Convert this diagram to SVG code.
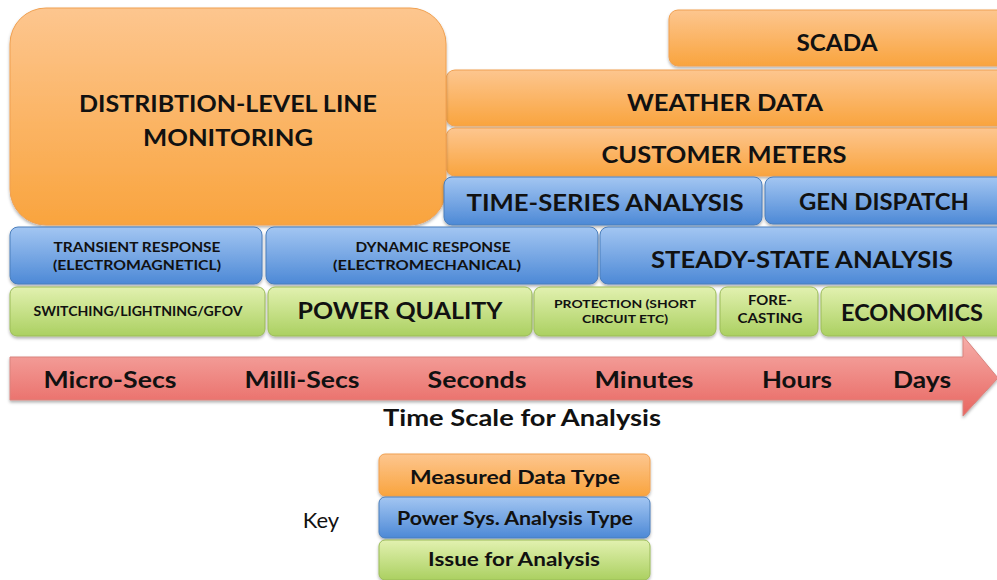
<svg xmlns="http://www.w3.org/2000/svg" width="997" height="580" viewBox="0 0 997 580">
<defs>
<linearGradient id="gO" x1="0" y1="0" x2="0" y2="1"><stop offset="0" stop-color="#FDC68F"/><stop offset="1" stop-color="#F9A43E"/></linearGradient>
<linearGradient id="gB" x1="0" y1="0" x2="0" y2="1"><stop offset="0" stop-color="#A3C6F2"/><stop offset="1" stop-color="#4D89D6"/></linearGradient>
<linearGradient id="gG" x1="0" y1="0" x2="0" y2="1"><stop offset="0" stop-color="#E2F1B0"/><stop offset="1" stop-color="#ABD061"/></linearGradient>
<linearGradient id="gR" x1="0" y1="0" x2="0" y2="1"><stop offset="0" stop-color="#F6AEA9"/><stop offset="1" stop-color="#E86560"/></linearGradient>
<filter id="sh" x="-5%" y="-10%" width="110%" height="130%"><feDropShadow dx="0" dy="2" stdDeviation="1.5" flood-color="#000" flood-opacity="0.3"/></filter>
</defs>
<style>
.o{fill:url(#gO);stroke:#F0A050;stroke-width:1;filter:url(#sh)}
.b{fill:url(#gB);stroke:#4A7EBB;stroke-width:1;filter:url(#sh)}
.g{fill:url(#gG);stroke:#9BBB59;stroke-width:1;filter:url(#sh)}
text{font-family:Lato,"Open Sans","Liberation Sans",sans-serif;font-weight:bold;fill:#111;text-anchor:middle}
.k{font-weight:normal}
</style>
<rect width="997" height="580" fill="#fff"/>

<g id="scada"><rect class="o" x="669" y="10" width="340" height="56" rx="9"/><text x="837" y="51" font-size="23" textLength="81" lengthAdjust="spacingAndGlyphs">SCADA</text></g>
<g id="weather"><rect class="o" x="446" y="70" width="563" height="56" rx="9"/><text x="725" y="111" font-size="23" textLength="196" lengthAdjust="spacingAndGlyphs">WEATHER DATA</text></g>
<g id="meters"><rect class="o" x="446" y="128" width="563" height="48" rx="9"/><text x="724" y="163" font-size="23" textLength="245" lengthAdjust="spacingAndGlyphs">CUSTOMER METERS</text></g>
<g id="dist"><rect class="o" x="10" y="8" width="436" height="217" rx="36"/><text x="228" y="112" font-size="23" textLength="298" lengthAdjust="spacingAndGlyphs">DISTRIBTION-LEVEL LINE</text><text x="228" y="146" font-size="23" textLength="170" lengthAdjust="spacingAndGlyphs">MONITORING</text></g>

<g id="timeseries"><rect class="b" x="444" y="177" width="318" height="48" rx="8"/><text x="605" y="211" font-size="23" textLength="277" lengthAdjust="spacingAndGlyphs">TIME-SERIES ANALYSIS</text></g>
<g id="gendispatch"><rect class="b" x="765" y="177" width="244" height="47" rx="8"/><text x="884" y="210" font-size="23" textLength="170" lengthAdjust="spacingAndGlyphs">GEN DISPATCH</text></g>
<g id="transient"><rect class="b" x="10" y="227" width="252" height="57" rx="8"/><text x="137" y="252" font-size="13" textLength="167" lengthAdjust="spacingAndGlyphs">TRANSIENT RESPONSE</text><text x="137" y="270" font-size="13" textLength="168" lengthAdjust="spacingAndGlyphs">(ELECTROMAGNETICL)</text></g>
<g id="dynamic"><rect class="b" x="266" y="227" width="332" height="57" rx="8"/><text x="433" y="252" font-size="13" textLength="155" lengthAdjust="spacingAndGlyphs">DYNAMIC RESPONSE</text><text x="427" y="270" font-size="13" textLength="188" lengthAdjust="spacingAndGlyphs">(ELECTROMECHANICAL)</text></g>
<g id="steady"><rect class="b" x="600" y="227" width="409" height="57" rx="8"/><text x="802" y="268" font-size="23" textLength="302" lengthAdjust="spacingAndGlyphs">STEADY-STATE ANALYSIS</text></g>

<g id="switching"><rect class="g" x="10" y="287" width="255" height="49" rx="7"/><text x="138" y="316" font-size="13" textLength="209" lengthAdjust="spacingAndGlyphs">SWITCHING/LIGHTNING/GFOV</text></g>
<g id="powerquality"><rect class="g" x="268" y="287" width="264" height="49" rx="7"/><text x="400" y="319" font-size="23" textLength="205" lengthAdjust="spacingAndGlyphs">POWER QUALITY</text></g>
<g id="protection"><rect class="g" x="534" y="287" width="182" height="49" rx="7"/><text x="625" y="308" font-size="11.5" textLength="142" lengthAdjust="spacingAndGlyphs">PROTECTION (SHORT</text><text x="625" y="323" font-size="11.5" textLength="86" lengthAdjust="spacingAndGlyphs">CIRCUIT ETC)</text></g>
<g id="forecasting"><rect class="g" x="720" y="287" width="98" height="49" rx="7"/><text x="770" y="305" font-size="13" textLength="44" lengthAdjust="spacingAndGlyphs">FORE-</text><text x="770" y="323" font-size="13" textLength="65" lengthAdjust="spacingAndGlyphs">CASTING</text></g>
<g id="economics"><rect class="g" x="821" y="287" width="188" height="49" rx="7"/><text x="912" y="321" font-size="23" textLength="142" lengthAdjust="spacingAndGlyphs">ECONOMICS</text></g>

<g id="timearrow">
<path d="M10 357 H963 V336 L998 378 L963 416 V400 H10 Z" fill="url(#gR)" stroke="#D9837E" stroke-width="1" filter="url(#sh)"/>
<text x="110" y="388" font-size="23" textLength="133" lengthAdjust="spacingAndGlyphs">Micro-Secs</text>
<text x="302" y="388" font-size="23" textLength="115" lengthAdjust="spacingAndGlyphs">Milli-Secs</text>
<text x="477" y="388" font-size="23" textLength="99" lengthAdjust="spacingAndGlyphs">Seconds</text>
<text x="644" y="388" font-size="23" textLength="99" lengthAdjust="spacingAndGlyphs">Minutes</text>
<text x="797" y="388" font-size="23" textLength="70" lengthAdjust="spacingAndGlyphs">Hours</text>
<text x="922" y="388" font-size="23" textLength="58" lengthAdjust="spacingAndGlyphs">Days</text>
</g>
<text x="522" y="426" font-size="22" textLength="278" lengthAdjust="spacingAndGlyphs">Time Scale for Analysis</text>

<g id="key">
<text class="k" x="321" y="528" font-size="22">Key</text>
<rect class="o" x="379" y="454" width="271" height="42" rx="6"/><text x="515" y="484" font-size="19" textLength="210" lengthAdjust="spacingAndGlyphs">Measured Data Type</text>
<rect class="b" x="379" y="497" width="271" height="41" rx="6"/><text x="515" y="525" font-size="19" textLength="236" lengthAdjust="spacingAndGlyphs">Power Sys. Analysis Type</text>
<rect class="g" x="379" y="540" width="271" height="40" rx="6"/><text x="514" y="566" font-size="19" textLength="172" lengthAdjust="spacingAndGlyphs">Issue for Analysis</text>
</g>
</svg>
